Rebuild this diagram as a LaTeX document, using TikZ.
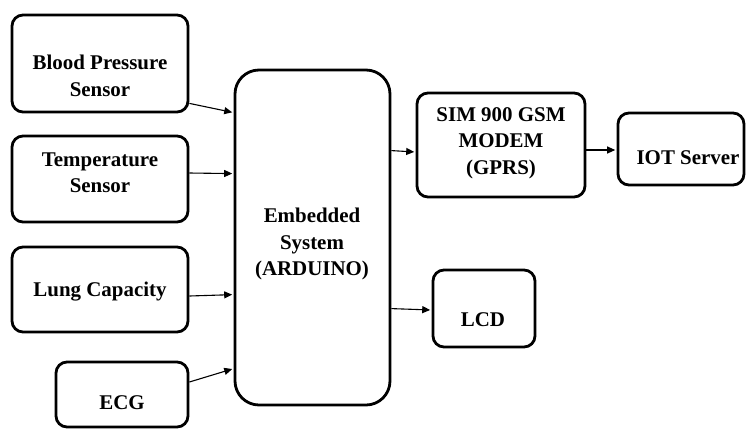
\documentclass[tikz,border=0pt]{standalone}
\usepackage{fontspec}
\setmainfont{Liberation Serif}
\usetikzlibrary{arrows.meta,calc}
\begin{document}
\begin{tikzpicture}[x=1bp,y=-1bp,
 box/.style={draw, line width=2.8bp, rounded corners=11bp, inner sep=0pt},
 lbl/.style={font=\bfseries\fontsize{21}{26.5}\selectfont, align=center, inner sep=0pt},
 conn/.style={line width=1.1bp, shorten >=1.4bp, -{Triangle[length=8bp,width=7bp]}}]
\useasboundingbox (0,0) rectangle (746,429);
\fill[white] (0,0) rectangle (746,429);
% boxes
\node[box, minimum width=176bp, minimum height=97bp] (bp) at (100,63.5) {};
\node[box, minimum width=176bp, minimum height=86bp] (temp) at (100,179) {};
\node[box, minimum width=176bp, minimum height=85bp] (lung) at (100,289.5) {};
\node[box, minimum width=132bp, minimum height=65bp] (ecg) at (122,394.5) {};
\node[box, rounded corners=24bp, minimum width=155bp, minimum height=335bp] (emb) at (312.5,237.5) {};
\node[box, minimum width=168bp, minimum height=104bp] (sim) at (501,145) {};
\node[box, minimum width=126bp, minimum height=72bp] (iot) at (681,149) {};
\node[box, minimum width=102bp, minimum height=77bp] (lcd) at (484,308.5) {};
% labels
\node[lbl] (tbp) at (100,76) {Blood Pressure\\Sensor};
\node[lbl] (ttemp) at (100,173) {Temperature\\Sensor};
\node[lbl] (tlung) at (100,292) {Lung Capacity};
\node[lbl] (tecg) at (122,403) {ECG};
\node[lbl] (temb) at (312,244) {Embedded\\System\\(ARDUINO)};
\node[lbl] (tsim) at (501,143) {SIM 900 GSM\\MODEM\\(GPRS)};
\node[lbl] (tiot) at (688,158) {IOT Server};
\node[lbl] (tlcd) at (483,320) {LCD};
% connectors
\draw[conn] ($(bp.south east)+(0,-10)$) -- ($(emb.north west)+(0,44)$);
\draw[conn] ($(temp.east)+(0,-6)$) -- ($(emb.north west)+(0,105)$);
\draw[conn] ($(lung.east)+(0,6.5)$) -- ($(emb.north west)+(0,226)$);
\draw[conn] ($(ecg.east)+(0,-12.5)$) -- ($(emb.north west)+(0,300)$);
\draw[conn] ($(emb.north east)+(0,82)$) -- ($(sim.west)+(0,7)$);
\draw[conn] ($(sim.east)+(0,5)$) -- ($(iot.west)+(0,1)$);
\draw[conn] ($(emb.north east)+(0,240)$) -- ($(lcd.west)+(0,1.5)$);
\end{tikzpicture}
\end{document}
